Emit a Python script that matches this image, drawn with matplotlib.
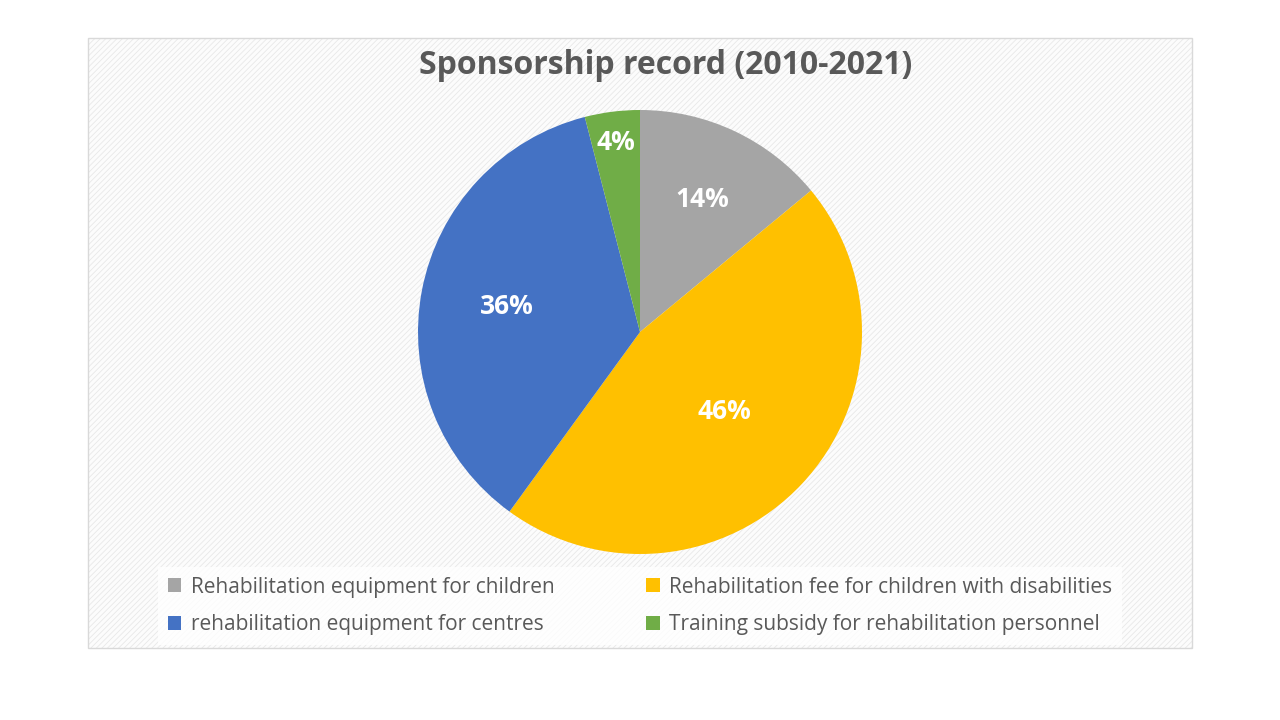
import matplotlib
matplotlib.use("Agg")
import matplotlib.pyplot as plt
from matplotlib.patches import Rectangle, Patch
import numpy as np

title = "Sponsorship record (2010-2021)"
categories = [
    "Rehabilitation equipment for children",
    "Rehabilitation fee for children with disabilities",
    "rehabilitation equipment for centres",
    "Training subsidy for rehabilitation personnel",
]
values = [14, 46, 36, 4]
colors = ["#A5A5A5", "#FFC000", "#4472C4", "#70AD47"]
label_radius = [0.66, 0.52, 0.61, 0.86]

plt.rcParams["font.family"] = ["Open Sans", "DejaVu Sans"]
plt.rcParams["hatch.linewidth"] = 0.6

fig = plt.figure(figsize=(12.8, 7.2), dpi=100)
fig.patch.set_facecolor("white")

# chart area background with faint diagonal hatch
x0, y0 = 88 / 1280, 1 - 648 / 720
w, h = (1192 - 88) / 1280, (648 - 38) / 720
fig.patches.append(Rectangle((x0, y0), w, h, transform=fig.transFigure,
                             facecolor="#FCFCFC", edgecolor="#E8E8E8",
                             hatch="//////", linewidth=0, zorder=-2))
fig.patches.append(Rectangle((x0, y0), w, h, transform=fig.transFigure,
                             facecolor="none", edgecolor="#D9D9D9",
                             linewidth=1.0, zorder=-1))

ax = fig.add_axes([(640 - 222) / 1280, 1 - 554 / 720, 444 / 1280, 444 / 720])
ax.set_zorder(2)
ax.set_facecolor("none")
wedges, _ = ax.pie(values, colors=colors, startangle=90, counterclock=False,
                   radius=1.0, wedgeprops=dict(linewidth=0))
total = sum(values)
for wdg, v, r in zip(wedges, values, label_radius):
    ang = np.deg2rad((wdg.theta1 + wdg.theta2) / 2)
    ax.text(r * np.cos(ang), r * np.sin(ang), f"{round(100 * v / total)}%",
            ha="center", va="center", color="white", fontsize=19,
            fontweight="bold")
ax.set_xlim(-1.0, 1.0)
ax.set_ylim(-1.0, 1.0)
ax.set_aspect("equal")
ax.axis("off")

fig.text(666 / 1280, 1 - 66 / 720, title, ha="center", va="center",
         fontsize=23, fontweight="bold", color="#595959")

order = [0, 2, 1, 3]  # row-major layout like the reference
handles = [Patch(facecolor=colors[i], edgecolor="none") for i in order]
labels = [categories[i] for i in order]
leg = fig.legend(handles, labels, ncol=2, loc="center",
                 bbox_to_anchor=(640 / 1280, 1 - 606 / 720),
                 frameon=True, fontsize=15, labelcolor="#595959",
                 handlelength=0.65, handleheight=0.65, handletextpad=0.45,
                 columnspacing=4.4, labelspacing=0.8, borderpad=0.45,
                 fancybox=False)
leg.set_zorder(3)
leg.get_frame().set_facecolor("white")
leg.get_frame().set_edgecolor("none")

fig.savefig("out.png", dpi=100, facecolor="white")
